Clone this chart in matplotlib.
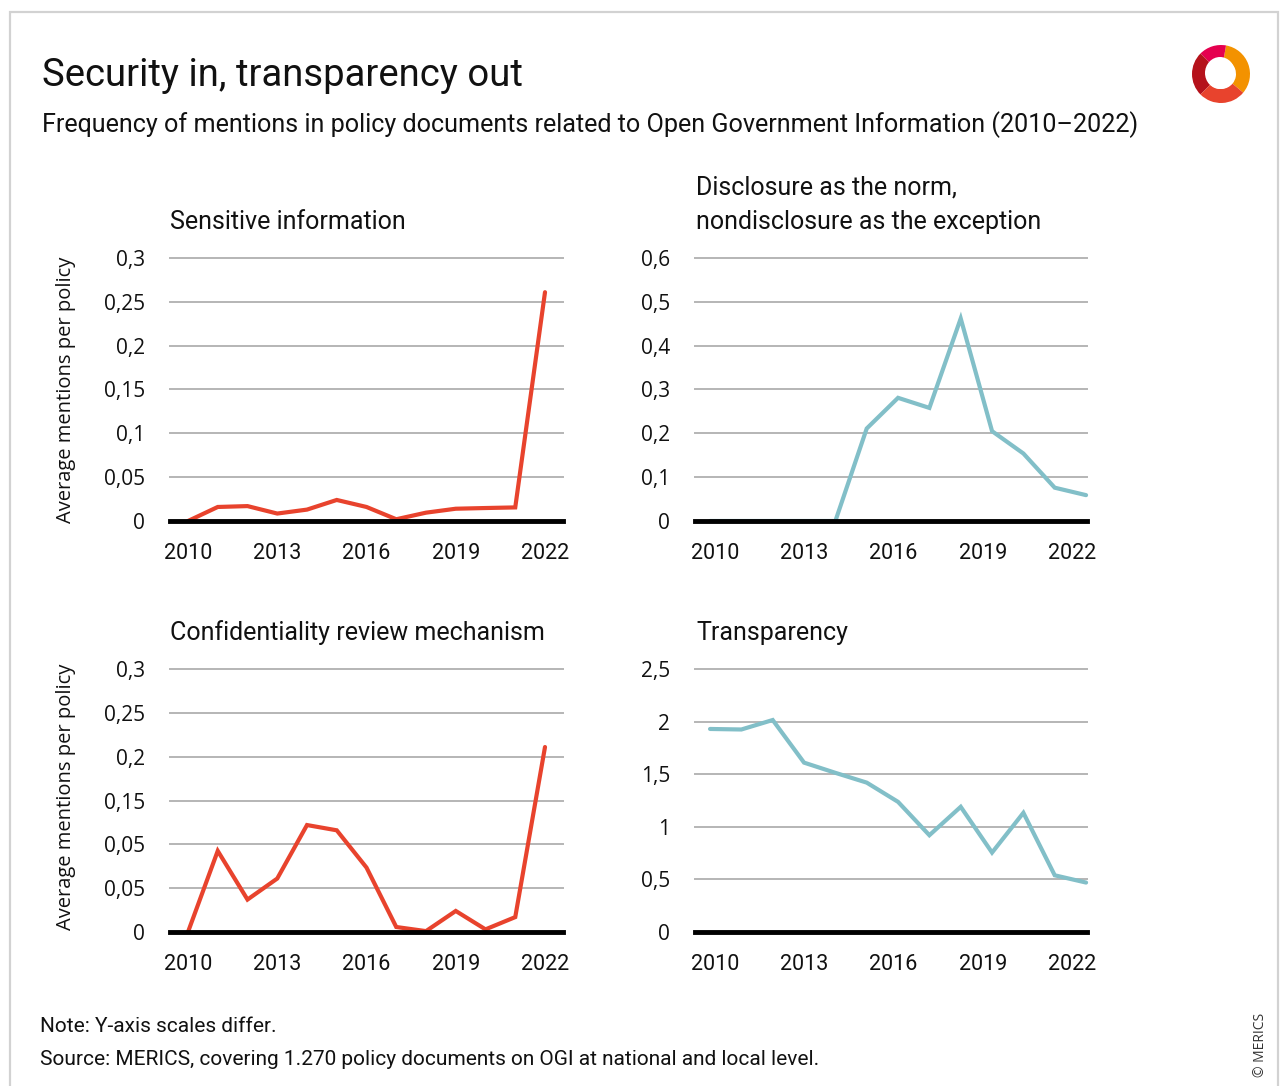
import numpy as np
import matplotlib
matplotlib.use("Agg")
import matplotlib.pyplot as plt
from matplotlib.patches import Rectangle, Wedge, Ellipse

plt.rcParams['font.family'] = ['Roboto', 'DejaVu Sans']

# Average mentions per policy document, 2010-2022
years = np.arange(2010, 2023)
sensitive_info = [0.0, 0.016, 0.017, 0.0085, 0.013, 0.024, 0.016, 0.002, 0.0095, 0.014, 0.0148, 0.0155, 0.261]
disclosure_norm = [0.0, 0.0, 0.0, 0.0, 0.0, 0.211, 0.281, 0.258, 0.462, 0.205, 0.154, 0.076, 0.059]
confidentiality_review = [0.0, 0.0925, 0.037, 0.061, 0.122, 0.116, 0.0735, 0.0057, 0.001, 0.024, 0.003, 0.017, 0.211]
transparency = [1.93, 1.925, 2.015, 1.61, 1.513, 1.42, 1.237, 0.92, 1.19, 0.755, 1.133, 0.539, 0.47]

tick_years = [2010, 2013, 2016, 2019, 2022]

yticks_small = [0, 0.05, 0.1, 0.15, 0.2, 0.25, 0.3]
ylabels_sensitive = ['0', '0,05', '0,1', '0,15', '0,2', '0,25', '0,3']
ylabels_review = ['0', '0,05', '0,05', '0,15', '0,2', '0,25', '0,3']
yticks_disclosure = [0, 0.1, 0.2, 0.3, 0.4, 0.5, 0.6]
ylabels_disclosure = ['0', '0,1', '0,2', '0,3', '0,4', '0,5', '0,6']
yticks_transp = [0, 0.5, 1, 1.5, 2, 2.5]
ylabels_transp = ['0', '0,5', '1', '1,5', '2', '2,5']

RED = '#e8432d'
TEAL = '#82bfc8'
GRID = '#b5b5b5'

W, H = 1286, 1086
fig = plt.figure(figsize=(W / 100, H / 100), dpi=100)


def box(x0, y0, x1, y1):
    return [x0 / W, 1 - y1 / H, (x1 - x0) / W, (y1 - y0) / H]


def ftext(x, y, s, **kw):
    fig.text(x / W, 1 - y / H, s, **kw)


# outer frame
fig.add_artist(Rectangle((10 / W, -0.05), 1268 / W, 1 - 12 / H + 0.05,
                         transform=fig.transFigure, fill=False,
                         edgecolor='#d2d2d2', lw=1.6))


def panel(rect, values, color, yticks, ylabels, right_col=False):
    ax = fig.add_axes(box(*rect))
    if right_col:
        ax.set_xlim(2009.52, 2022.03)
        # year labels sit a little inside the plotted span
        ax.set_xticks(2010.16 + (np.array(tick_years) - 2010) * 0.949)
    else:
        ax.set_xlim(2009.395, 2022.605)
        ax.set_xticks(tick_years)
    ax.set_xticklabels([str(y) for y in tick_years])
    ax.set_ylim(0, yticks[-1])
    ax.set_yticks(yticks)
    ax.set_yticklabels(ylabels)
    for t in yticks[1:]:
        ax.axhline(t, color=GRID, lw=1.4, zorder=1, clip_on=False)
    ax.plot(years, values, color=color, lw=3.0, zorder=2,
            solid_capstyle='round', solid_joinstyle='miter', clip_on=False)
    ax.axhline(0, color='black', lw=3.5, zorder=3, clip_on=False)
    for s in ax.spines.values():
        s.set_visible(False)
    ax.tick_params(length=0, labelsize=15, colors='#111111')
    ax.tick_params(axis='y', pad=18)
    ax.tick_params(axis='x', pad=16, labelsize=15.5)
    for lab in ax.get_yticklabels():
        lab.set_fontfamily(['Open Sans', 'DejaVu Sans'])
    ax.patch.set_alpha(0)
    return ax


panel((170, 258, 563, 521), sensitive_info, RED, yticks_small, ylabels_sensitive)
panel((695, 258, 1087, 521), disclosure_norm, TEAL, yticks_disclosure, ylabels_disclosure, right_col=True)
panel((170, 669, 563, 932), confidentiality_review, RED, yticks_small, ylabels_review)
panel((695, 669, 1087, 932), transparency, TEAL, yticks_transp, ylabels_transp, right_col=True)

# headings
ftext(42, 86, 'Security in, transparency out', fontsize=27.5, color='#111111', va='baseline')
ftext(42, 132, 'Frequency of mentions in policy documents related to Open Government Information (2010\u20132022)',
      fontsize=18.1, color='#111111', va='baseline')

ftext(170, 229, 'Sensitive information', fontsize=18, color='#111111', va='baseline')
ftext(696, 194, 'Disclosure as the norm,', fontsize=18, color='#111111', va='baseline')
ftext(696, 229, 'nondisclosure as the exception', fontsize=18, color='#111111', va='baseline')
ftext(170, 640, 'Confidentiality review mechanism', fontsize=18, color='#111111', va='baseline')
ftext(696, 640, 'Transparency', fontsize=18, color='#111111', va='baseline')

for yc in (390, 797):
    ftext(66, yc, 'Average mentions per policy', fontsize=14.5, color='#111111',
          rotation=90, ha='center', va='center', family=['Open Sans', 'DejaVu Sans'])

# footer
ftext(40, 1032, 'Note: Y-axis scales differ.', fontsize=15, color='#111111', va='baseline')
ftext(40, 1065, 'Source: MERICS, covering 1.270 policy documents on OGI at national and local level.',
      fontsize=15, color='#111111', va='baseline')
ftext(1261, 1045, '\u00a9 MERICS', fontsize=10, color='#333333', rotation=90,
      ha='center', va='center', family=['Open Sans', 'DejaVu Sans'])

# logo
lax = fig.add_axes(box(1188, 42, 1256, 106))
lax.set_xlim(0, 68)
lax.set_ylim(0, 64)
lax.set_aspect('equal')
lax.axis('off')
c = (33, 32)
for t1, t2, col in [(-40, 80, '#f39200'), (80, 135, '#e5004f'),
                    (135, 225, '#b5121b'), (225, 320, '#e8432d')]:
    lax.add_patch(Wedge(c, 29, t1, t2, width=14, color=col, lw=0))
lax.add_patch(Ellipse((32, 33), 30, 32, color='white', lw=0))

fig.savefig('out.png', dpi=100)
